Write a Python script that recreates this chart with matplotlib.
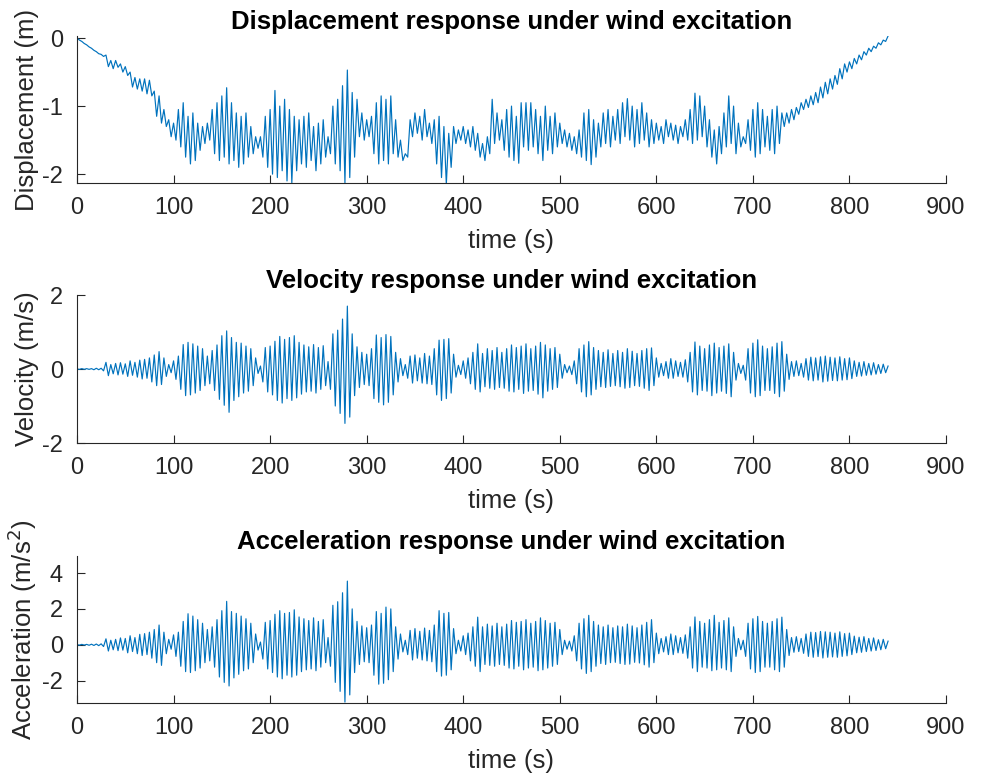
import matplotlib
matplotlib.use("Agg")
import matplotlib.pyplot as plt
import numpy as np

plt.rcParams['font.family'] = ['Liberation Sans', 'DejaVu Sans']
plt.rcParams['axes.unicode_minus'] = False

# peaks: "hi" at t = 0, 5, 10 ... s, "lo" at t = 2.5, 7.5 ... s
disp_hi = [0.00, -0.05, -0.10, -0.15, -0.20, -0.24, -0.25, -0.33, -0.33, -0.38,
           -0.42, -0.50, -0.58, -0.60, -0.60, -0.62, -0.78, -0.85, -1.05, -1.20,
           -1.25, -1.05, -0.95, -1.15, -1.10, -1.25, -1.30, -1.25, -1.05, -0.95,
           -0.85, -0.73, -0.95, -1.10, -1.15, -1.10, -1.30, -1.45, -1.45, -1.15,
           -1.05, -0.77, -1.00, -0.90, -1.05, -1.15, -1.20, -1.15, -1.10, -1.30,
           -1.25, -1.20, -1.45, -1.00, -0.90, -0.70, -0.47, -0.80, -0.90, -1.10,
           -1.20, -1.15, -0.95, -0.85, -0.90, -0.85, -1.20, -1.50, -1.70, -1.20,
           -1.10, -1.15, -1.05, -1.25, -1.20, -1.15, -1.30, -1.40, -1.30, -1.35,
           -1.30, -1.35, -1.30, -1.40, -1.55, -1.45, -0.90, -1.10, -1.20, -1.05,
           -1.00, -1.15, -0.95, -0.95, -0.95, -1.05, -1.15, -1.00, -1.15, -1.10,
           -1.25, -1.35, -1.40, -1.45, -1.35, -1.10, -1.05, -1.20, -1.25, -1.10,
           -1.05, -1.15, -1.05, -0.95, -0.89, -1.00, -1.05, -0.95, -1.10, -1.20,
           -1.25, -1.30, -1.20, -1.25, -1.28, -1.30, -1.20, -1.05, -0.81, -0.85,
           -1.00, -1.20, -1.35, -1.30, -1.10, -0.85, -1.00, -1.25, -1.45, -1.20,
           -1.05, -0.95, -1.05, -1.15, -1.05, -1.00, -1.10, -1.10, -1.05, -1.02,
           -0.95, -0.90, -0.85, -0.80, -0.72, -0.65, -0.60, -0.55, -0.45, -0.38,
           -0.35, -0.30, -0.25, -0.20, -0.15, -0.12, -0.07, -0.03, 0.03]
disp_lo = [-0.03, -0.08, -0.13, -0.18, -0.23, -0.27, -0.42, -0.45, -0.43, -0.50,
           -0.55, -0.72, -0.75, -0.78, -0.82, -0.85, -1.15, -1.25, -1.30, -1.45,
           -1.50, -1.60, -1.75, -1.85, -1.80, -1.65, -1.55, -1.50, -1.70, -1.80,
           -1.75, -1.85, -1.80, -1.90, -1.85, -1.75, -1.70, -1.62, -1.75, -1.90,
           -2.00, -2.05, -1.95, -2.10, -2.13, -1.95, -1.85, -1.90, -1.80, -1.95,
           -1.85, -1.75, -1.70, -1.85, -1.95, -2.13, -2.05, -1.75, -1.45, -1.50,
           -1.45, -1.70, -1.85, -1.80, -1.85, -1.70, -1.75, -1.80, -1.75, -1.45,
           -1.40, -1.50, -1.45, -1.55, -1.85, -2.05, -2.15, -1.90, -1.55, -1.50,
           -1.55, -1.60, -1.65, -1.75, -1.80, -1.70, -1.55, -1.50, -1.65, -1.75,
           -1.80, -1.84, -1.60, -1.65, -1.60, -1.70, -1.80, -1.65, -1.70, -1.60,
           -1.55, -1.60, -1.65, -1.70, -1.75, -1.80, -1.86, -1.75, -1.60, -1.55,
           -1.60, -1.50, -1.55, -1.45, -1.50, -1.60, -1.55, -1.50, -1.60, -1.55,
           -1.50, -1.55, -1.45, -1.50, -1.55, -1.45, -1.50, -1.55, -1.50, -1.45,
           -1.60, -1.75, -1.85, -1.70, -1.60, -1.55, -1.70, -1.60, -1.55, -1.65,
           -1.75, -1.70, -1.60, -1.65, -1.70, -1.55, -1.30, -1.25, -1.20, -1.12,
           -1.05, -1.02, -0.98, -0.95, -0.88, -0.82, -0.75, -0.68, -0.60, -0.50,
           -0.45, -0.38, -0.32, -0.25, -0.20, -0.15, -0.10, -0.05]

vel_hi = [0.00, 0.01, 0.01, 0.01, 0.02, 0.02, 0.18, 0.12, 0.15, 0.17,
          0.14, 0.22, 0.18, 0.24, 0.26, 0.30, 0.38, 0.47, 0.30, 0.12,
          0.22, 0.35, 0.66, 0.72, 0.68, 0.62, 0.55, 0.35, 0.50, 0.65,
          0.90, 1.03, 0.85, 0.72, 0.70, 0.62, 0.55, 0.30, 0.08, 0.58,
          0.62, 0.75, 0.88, 0.80, 0.85, 0.90, 0.72, 0.65, 0.60, 0.66,
          0.58, 0.63, 0.20, 0.95, 1.05, 1.35, 1.70, 0.95, 0.60, 0.45,
          0.40, 0.55, 0.92, 0.85, 0.93, 0.88, 0.45, 0.28, 0.12, 0.35,
          0.38, 0.30, 0.42, 0.35, 0.55, 0.78, 0.80, 0.82, 0.40, 0.10,
          0.22, 0.30, 0.45, 0.68, 0.42, 0.55, 0.50, 0.58, 0.45, 0.55,
          0.65, 0.58, 0.62, 0.68, 0.55, 0.62, 0.72, 0.65, 0.55, 0.58,
          0.40, 0.12, 0.08, 0.22, 0.55, 0.65, 0.74, 0.58, 0.50, 0.45,
          0.52, 0.42, 0.50, 0.45, 0.55, 0.48, 0.42, 0.50, 0.55, 0.57,
          0.30, 0.15, 0.20, 0.28, 0.22, 0.18, 0.25, 0.45, 0.73, 0.62,
          0.55, 0.65, 0.70, 0.58, 0.62, 0.68, 0.45, 0.15, 0.10, 0.55,
          0.70, 0.79, 0.62, 0.55, 0.60, 0.70, 0.74, 0.40, 0.20, 0.22,
          0.15, 0.28, 0.32, 0.30, 0.33, 0.35, 0.32, 0.30, 0.33, 0.28,
          0.30, 0.22, 0.18, 0.20, 0.15, 0.17, 0.12, 0.13, 0.08]
vel_lo = [-0.01, -0.01, -0.01, -0.02, -0.02, -0.05, -0.18, -0.13, -0.16, -0.14,
          -0.20, -0.17, -0.22, -0.27, -0.25, -0.35, -0.45, -0.42, -0.20, -0.10,
          -0.28, -0.55, -0.72, -0.70, -0.65, -0.58, -0.45, -0.40, -0.58, -0.82,
          -0.98, -1.17, -0.85, -0.75, -0.65, -0.60, -0.45, -0.12, -0.35, -0.62,
          -0.70, -0.85, -0.92, -0.80, -0.85, -0.78, -0.68, -0.62, -0.60, -0.65,
          -0.55, -0.45, -0.55, -1.00, -1.20, -1.47, -1.30, -0.72, -0.50, -0.42,
          -0.45, -0.80, -0.90, -0.97, -0.90, -0.70, -0.35, -0.18, -0.25, -0.38,
          -0.32, -0.38, -0.40, -0.42, -0.70, -0.85, -0.80, -0.65, -0.22, -0.15,
          -0.25, -0.40, -0.55, -0.62, -0.48, -0.52, -0.55, -0.50, -0.52, -0.60,
          -0.62, -0.55, -0.66, -0.60, -0.58, -0.68, -0.78, -0.60, -0.55, -0.50,
          -0.25, -0.10, -0.15, -0.40, -0.62, -0.75, -0.70, -0.55, -0.48, -0.50,
          -0.47, -0.45, -0.48, -0.52, -0.50, -0.45, -0.47, -0.52, -0.58, -0.45,
          -0.22, -0.18, -0.25, -0.25, -0.20, -0.22, -0.35, -0.62, -0.70, -0.58,
          -0.60, -0.72, -0.65, -0.60, -0.66, -0.75, -0.30, -0.12, -0.30, -0.65,
          -0.75, -0.72, -0.58, -0.58, -0.66, -0.75, -0.60, -0.28, -0.20, -0.18,
          -0.22, -0.30, -0.32, -0.30, -0.35, -0.33, -0.31, -0.32, -0.30, -0.29,
          -0.26, -0.20, -0.19, -0.17, -0.16, -0.14, -0.12, -0.10]

acc_hi = [0.00, 0.02, 0.02, 0.03, 0.04, 0.05, 0.33, 0.25, 0.30, 0.38,
          0.35, 0.50, 0.40, 0.58, 0.62, 0.70, 0.85, 1.10, 0.70, 0.30,
          0.55, 0.70, 1.30, 1.73, 1.60, 1.40, 1.20, 0.85, 1.00, 1.40,
          1.90, 2.42, 1.85, 1.75, 1.60, 1.45, 1.20, 0.60, 0.15, 1.25,
          1.35, 1.70, 1.90, 1.75, 1.80, 1.95, 1.55, 1.45, 1.35, 1.50,
          1.30, 1.40, 0.40, 2.20, 2.40, 2.90, 3.55, 2.00, 1.30, 1.05,
          0.95, 1.10, 1.85, 1.75, 2.10, 2.00, 1.00, 0.60, 0.25, 0.80,
          0.90, 0.75, 0.93, 0.80, 1.10, 1.90, 1.75, 1.80, 0.90, 0.25,
          0.50, 0.65, 1.00, 1.54, 1.00, 1.15, 1.05, 1.20, 1.00, 1.15,
          1.35, 1.25, 1.30, 1.40, 1.20, 1.30, 1.50, 1.35, 1.20, 1.25,
          0.85, 0.25, 0.20, 0.50, 1.20, 1.45, 1.64, 1.30, 1.10, 1.00,
          1.10, 0.95, 1.05, 1.00, 1.15, 1.05, 0.95, 1.10, 1.25, 1.40,
          0.65, 0.35, 0.45, 0.60, 0.50, 0.40, 0.55, 1.00, 1.55, 1.30,
          1.20, 1.40, 1.64, 1.25, 1.35, 1.50, 1.00, 0.35, 0.25, 1.20,
          1.45, 1.58, 1.30, 1.20, 1.30, 1.45, 1.54, 0.85, 0.40, 0.45,
          0.35, 0.60, 0.70, 0.68, 0.74, 0.72, 0.70, 0.65, 0.72, 0.62,
          0.65, 0.48, 0.42, 0.45, 0.35, 0.38, 0.28, 0.30, 0.20]
acc_lo = [-0.02, -0.02, -0.03, -0.04, -0.05, -0.10, -0.35, -0.28, -0.33, -0.30,
          -0.45, -0.38, -0.50, -0.60, -0.55, -0.75, -1.00, -1.15, -0.50, -0.25,
          -0.65, -1.20, -1.50, -1.55, -1.45, -1.30, -1.00, -0.90, -1.25, -1.80,
          -2.10, -2.30, -1.85, -1.65, -1.45, -1.35, -1.00, -0.30, -0.80, -1.35,
          -1.55, -1.80, -1.90, -1.70, -1.80, -1.70, -1.50, -1.40, -1.35, -1.45,
          -1.25, -1.00, -1.20, -2.10, -2.60, -3.20, -2.80, -1.55, -1.10, -0.95,
          -1.00, -1.70, -2.20, -2.15, -1.95, -1.50, -0.80, -0.40, -0.55, -0.85,
          -0.75, -0.85, -0.90, -0.95, -1.50, -1.75, -1.70, -1.40, -0.50, -0.35,
          -0.55, -0.90, -1.20, -1.50, -1.10, -1.15, -1.20, -1.10, -1.15, -1.30,
          -1.35, -1.20, -1.40, -1.30, -1.25, -1.45, -1.40, -1.30, -1.20, -1.10,
          -0.55, -0.25, -0.35, -0.90, -1.35, -1.60, -1.50, -1.20, -1.05, -1.10,
          -1.00, -0.98, -1.05, -1.10, -1.08, -0.98, -1.02, -1.12, -1.25, -1.00,
          -0.50, -0.40, -0.55, -0.55, -0.45, -0.48, -0.75, -1.30, -1.50, -1.25,
          -1.30, -1.45, -1.40, -1.30, -1.40, -1.50, -0.65, -0.28, -0.65, -1.35,
          -1.55, -1.50, -1.25, -1.25, -1.40, -1.50, -1.25, -0.60, -0.42, -0.38,
          -0.48, -0.65, -0.70, -0.66, -0.74, -0.70, -0.68, -0.70, -0.65, -0.62,
          -0.55, -0.45, -0.42, -0.38, -0.35, -0.32, -0.28, -0.22]

titles = ["Displacement response under wind excitation",
          "Velocity response under wind excitation",
          "Acceleration response under wind excitation"]
ylabels = ["Displacement (m)", "Velocity (m/s)", "Acceleration (m/s$^2$)"]
yticks = [[-2, -1, 0], [-2, 0, 2], [-2, 0, 2, 4]]
ylims = [(-2.13, 0.03), (-2, 2), (-3.25, 4.95)]
xticks = list(range(0, 1000, 100))


def zigzag(hi, lo, dt=5.0):
    t = np.concatenate([np.arange(len(hi)) * dt, np.arange(len(lo)) * dt + dt / 2])
    y = np.concatenate([hi, lo])
    idx = np.argsort(t)
    return t[idx], y[idx]


series = [zigzag(disp_hi, disp_lo), zigzag(vel_hi, vel_lo), zigzag(acc_hi, acc_lo)]

fig = plt.figure(figsize=(9.82, 7.79), dpi=100)
# axes boxes in pixels (top, bottom)
boxes = [(36, 183), (295, 443), (556, 703)]
dark = '#262626'
for i in range(3):
    top, bot = boxes[i]
    ax = fig.add_axes([77 / 982, 1 - bot / 779, 869 / 982, (bot - top) / 779])
    t, y = series[i]
    ax.plot(t, y, color='#0072BD', lw=0.85)
    ax.set_xlim(0, 900)
    ax.set_ylim(*ylims[i])
    ax.set_xticks(xticks)
    ax.set_yticks(yticks[i])
    for s in ['top', 'right']:
        ax.spines[s].set_visible(False)
    for s in ['left', 'bottom']:
        ax.spines[s].set_color(dark)
        ax.spines[s].set_linewidth(0.8)
    ax.tick_params(direction='in', length=5.5, width=0.8, colors=dark,
                   labelsize=17)
    ax.tick_params(axis='x', pad=10)
    ax.tick_params(axis='y', pad=10)
    ax.set_title(titles[i], fontsize=18.5, fontweight='bold', pad=5)
    ax.set_xlabel("time (s)", fontsize=18.5, color=dark, labelpad=7)
    ax.set_ylabel(ylabels[i], fontsize=18.5, color=dark, labelpad=2)

fig.savefig("out.png", dpi=100)
